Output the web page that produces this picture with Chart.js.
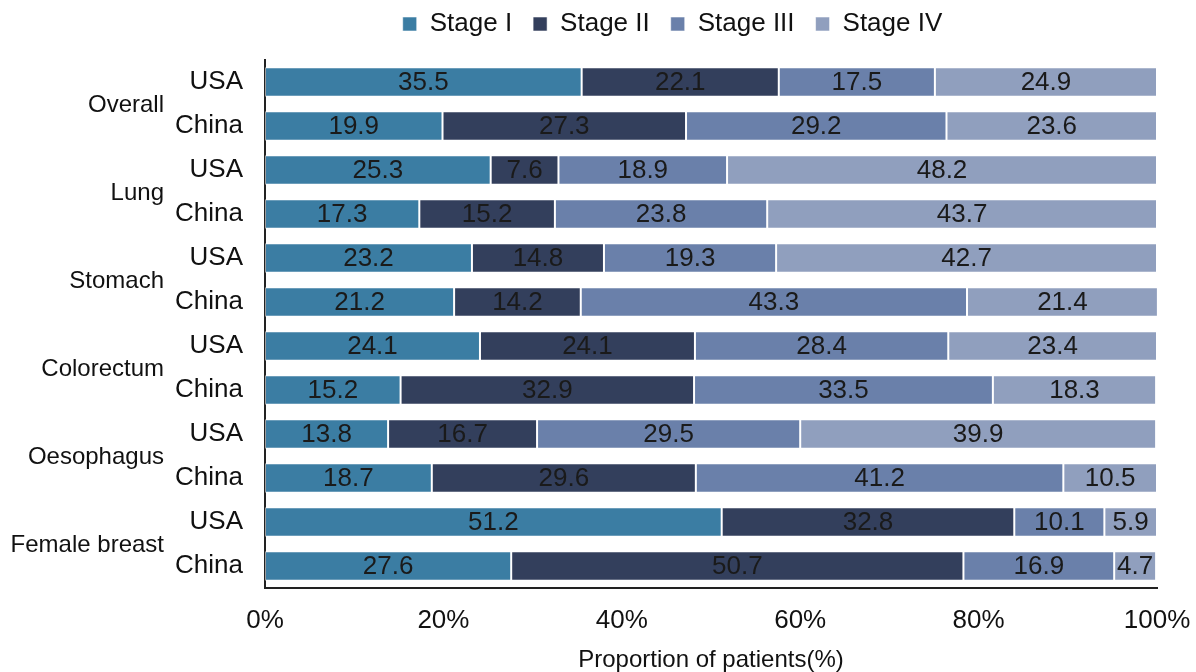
<!DOCTYPE html>
<html>
<head>
<meta charset="utf-8">
<script src="https://cdn.jsdelivr.net/npm/chart.js@4"></script>
<style>
  html, body { margin: 0; padding: 0; background: #fff; }
  #wrap { width: 1196px; height: 672px; position: relative; }
</style>
</head>
<body>
<div id="wrap"><canvas id="stageChart"></canvas></div>
<script>
// cancer sites, each with a USA and a China bar
const sites = ['Overall', 'Lung', 'Stomach', 'Colorectum', 'Oesophagus', 'Female breast'];
const countries = ['USA', 'China'];
const stageNames = ['Stage I', 'Stage II', 'Stage III', 'Stage IV'];
const stageColors = ['#3b7da3', '#333f5c', '#6a80aa', '#909fbe'];

// order: Overall USA, Overall China, Lung USA, Lung China, ...
const stage1 = [35.5, 19.9, 25.3, 17.3, 23.2, 21.2, 24.1, 15.2, 13.8, 18.7, 51.2, 27.6];
const stage2 = [22.1, 27.3, 7.6, 15.2, 14.8, 14.2, 24.1, 32.9, 16.7, 29.6, 32.8, 50.7];
const stage3 = [17.5, 29.2, 18.9, 23.8, 19.3, 43.3, 28.4, 33.5, 29.5, 41.2, 10.1, 16.9];
const stage4 = [24.9, 23.6, 48.2, 43.7, 42.7, 21.4, 23.4, 18.3, 39.9, 10.5, 5.9, 4.7];
const xTicks = [0, 20, 40, 60, 80, 100];

const labels = [];
sites.forEach(() => countries.forEach(c => labels.push(c)));

const font = "'Liberation Sans', Arial, sans-serif";

// numbers in the middle of each segment
const valueLabels = {
  id: 'valueLabels',
  afterDatasetsDraw(chart) {
    const ctx = chart.ctx;
    ctx.save();
    ctx.font = '26px ' + font;
    ctx.fillStyle = '#1a1a1a';
    ctx.textAlign = 'center';
    ctx.textBaseline = 'middle';
    chart.data.datasets.forEach((ds, di) => {
      chart.getDatasetMeta(di).data.forEach((bar, i) => {
        const p = bar.getProps(['x', 'y', 'base'], true);
        ctx.fillText(ds.data[i].toFixed(1), (p.x + p.base) / 2, p.y + 1);
      });
    });
    ctx.restore();
  }
};

// site names between their two country rows
const groupLabels = {
  id: 'groupLabels',
  afterDraw(chart) {
    const ctx = chart.ctx;
    const y = chart.scales.y;
    ctx.save();
    ctx.font = '24px ' + font;
    ctx.fillStyle = '#111';
    ctx.textAlign = 'right';
    ctx.textBaseline = 'middle';
    sites.forEach((s, i) => {
      const yy = (y.getPixelForValue(i * 2) + y.getPixelForValue(i * 2 + 1)) / 2;
      ctx.fillText(s, chart.chartArea.left - 101, yy + 1);
    });
    ctx.restore();
  }
};

// extra room under the legend, and shift it over the plot a bit
const legendSpace = {
  id: 'legendSpace',
  beforeLayout(chart) {
    const lg = chart.legend;
    if (lg && !lg._padded) {
      const fit = lg.fit;
      lg.fit = function () { fit.call(this); this.height += 13; };
      lg._padded = true;
    }
  },
  afterLayout(chart) {
    const lg = chart.legend;
    if (lg) { lg.left += 94; lg.right += 94; }
  }
};

const stages = [stage1, stage2, stage3, stage4];

new Chart(document.getElementById('stageChart'), {
  type: 'bar',
  data: {
    labels: labels,
    datasets: stages.map((d, i) => ({
      label: stageNames[i],
      data: d,
      backgroundColor: stageColors[i],
      borderColor: 'rgba(255,255,255,0.55)',
      borderWidth: 1,
      borderSkipped: false,
      barPercentage: 0.67,
      categoryPercentage: 1
    }))
  },
  options: {
    indexAxis: 'y',
    responsive: true,
    maintainAspectRatio: false,
    animation: false,
    layout: { padding: { left: 0, right: 39, top: -10, bottom: 0 } },
    plugins: {
      legend: {
        position: 'top',
        labels: {
          font: { family: font, size: 26 },
          color: '#111',
          boxWidth: 14,
          boxHeight: 14,
          padding: 21
        }
      },
      tooltip: { enabled: false }
    },
    scales: {
      x: {
        stacked: true,
        min: 0,
        max: 100,
        afterBuildTicks(scale) {
          scale.ticks = xTicks.map(v => ({ value: v }));
        },
        afterFit(scale) {
          scale.height = 84;
          scale.paddingLeft = 0;
          scale.paddingRight = 0;
        },
        grid: { display: false, drawTicks: false },
        border: { display: true, color: '#222', width: 2 },
        ticks: {
          font: { family: font, size: 26 },
          color: '#111',
          padding: 17,
          maxRotation: 0,
          callback: v => v + '%'
        },
        title: {
          display: true,
          text: 'Proportion of patients(%)',
          font: { family: font, size: 24 },
          color: '#111',
          padding: { top: 0, bottom: -3 }
        }
      },
      y: {
        stacked: true,
        afterFit(scale) { scale.width = 265; },
        grid: { display: false, drawTicks: false },
        border: { display: true, color: '#222', width: 2 },
        ticks: {
          font: { family: font, size: 26 },
          color: '#111',
          padding: 22
        }
      }
    }
  },
  plugins: [valueLabels, groupLabels, legendSpace]
});
</script>
</body>
</html>
